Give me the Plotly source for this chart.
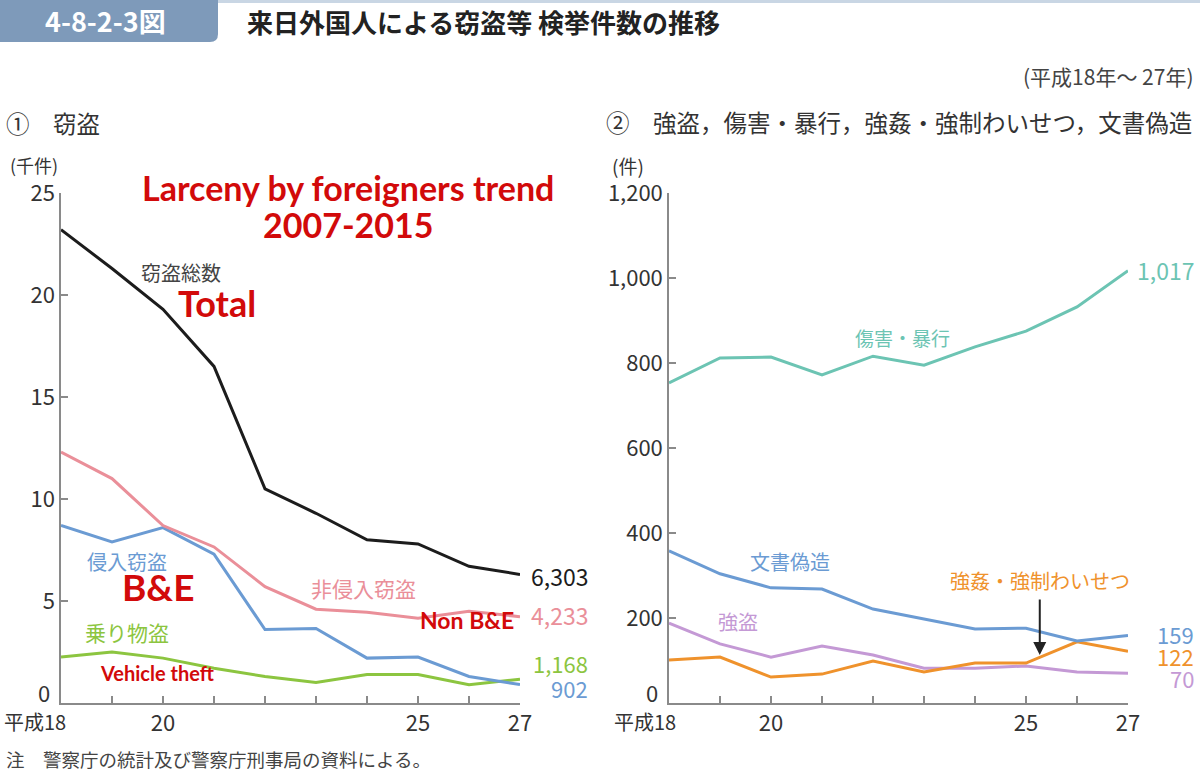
import plotly.graph_objects as go

W, H = 1200, 772
years = [18, 19, 20, 21, 22, 23, 24, 25, 26, 27]

# ① 窃盗 (千件)
total = [23.2, 21.3, 19.3, 16.5, 10.5, 9.3, 8.0, 7.8, 6.7, 6.303]
non_be = [12.3, 11.0, 8.7, 7.65, 5.7, 4.6, 4.45, 4.15, 4.5, 4.233]
be = [8.7, 7.9, 8.6, 7.3, 3.6, 3.65, 2.2, 2.25, 1.3, 0.902]
vehicle = [2.25, 2.5, 2.2, 1.7, 1.3, 1.0, 1.4, 1.4, 0.9, 1.168]

# ② 強盗，傷害・暴行，強姦・強制わいせつ，文書偽造 (件)
assault = [753, 812, 814, 772, 816, 795, 838, 875, 932, 1017]
forgery = [358, 304, 271, 268, 221, 197, 174, 176, 146, 159]
robbery = [188, 139, 108, 134, 113, 82, 82, 87, 73, 70]
rape = [101, 108, 61, 68, 99, 73, 94, 94, 144, 122]

xtick_vals = years
xtick_text = ["", "", "20", "", "", "", "", "25", "", "27"]
y1_ticks = [0, 5, 10, 15, 20, 25]
y1_text = ["", "5", "10", "15", "20", "25"]
y2_ticks = [0, 200, 400, 600, 800, 1000, 1200]
y2_text = ["", "200", "400", "600", "800", "1,000", "1,200"]

C_BLACK = "#1c1c1c"
C_PINK = "#ea8f99"
C_BLUE = "#6b9bd3"
C_GREEN = "#8cc540"
C_TEAL = "#6cc4b3"
C_PURPLE = "#c499d5"
C_ORANGE = "#ef922c"
C_RED = "#d20a0a"
JP = "Noto Sans CJK JP"
EN = "Lato"


def px(x):
    return x / W


def py(y):
    return (H - y) / H


fig = go.Figure()

for ser, col in [(vehicle, C_GREEN), (be, C_BLUE), (non_be, C_PINK), (total, C_BLACK)]:
    fig.add_trace(go.Scatter(x=years, y=ser, mode="lines", line=dict(color=col, width=3),
                             xaxis="x", yaxis="y", hoverinfo="skip", showlegend=False))
for ser, col in [(robbery, C_PURPLE), (rape, C_ORANGE), (forgery, C_BLUE), (assault, C_TEAL)]:
    fig.add_trace(go.Scatter(x=years, y=ser, mode="lines", line=dict(color=col, width=3),
                             xaxis="x2", yaxis="y2", hoverinfo="skip", showlegend=False))

axis_common = dict(showgrid=False, zeroline=False, showline=True, linecolor="#8a8a8a", linewidth=1.5,
                   ticks="inside", ticklen=7, tickcolor="#8a8a8a", tickwidth=1.5, automargin=False,
                   tickfont=dict(family=JP, size=22, color="#333333"))

y0, y1 = py(703), py(193)
fig.update_layout(
    template="none",
    width=W, height=H, margin=dict(l=0, r=0, t=0, b=0, pad=0, autoexpand=False),
    paper_bgcolor="white", plot_bgcolor="white",
    xaxis=dict(domain=[px(61), px(520)], range=[18, 27], tickvals=xtick_vals, ticktext=xtick_text,
               anchor="y", **axis_common),
    yaxis=dict(domain=[y0, y1], range=[0, 25], tickvals=y1_ticks, ticktext=y1_text, anchor="x",
               **axis_common),
    xaxis2=dict(domain=[px(669), px(1128)], range=[18, 27], tickvals=xtick_vals, ticktext=xtick_text,
                anchor="y2", **axis_common),
    yaxis2=dict(domain=[y0, y1], range=[0, 1200], tickvals=y2_ticks, ticktext=y2_text,
                anchor="x2", **axis_common),
)

shapes = []
# header box with rounded bottom-right corner
shapes.append(dict(type="path", xref="paper", yref="paper",
                   path=f"M 0 {py(0)} L {px(218)} {py(0)} L {px(218)} {py(34)} "
                        f"Q {px(218)} {py(42)} {px(210)} {py(42)} L 0 {py(42)} Z",
                   fillcolor="#7e9aba", line=dict(width=0)))
shapes.append(dict(type="line", xref="paper", yref="paper", x0=px(218), x1=1, y0=py(1.5), y1=py(1.5),
                   line=dict(color="#c9d6e4", width=3)))
fig.update_layout(shapes=shapes)

ann = []


def t(x, y, text, size, color="#333333", family=JP, xanchor="center", yanchor="middle", xref="paper",
      yref="paper", **kw):
    ann.append(dict(x=x, y=y, text=text, xref=xref, yref=yref, showarrow=False, xanchor=xanchor,
                    yanchor=yanchor, font=dict(family=family, size=size, color=color), **kw))


# header
t(px(105), py(21), "<b>4-8-2-3図</b>", 27, "white")
t(px(245), py(22), "<b>来日外国人による窃盗等 検挙件数の推移</b>", 26, "#222222", xanchor="left")
t(px(1196), py(76), "(平成18年～ 27年)", 21, "#444444", xanchor="right")
t(px(4), py(123), "①　窃盗", 23.5, "#333333", xanchor="left")
t(px(604), py(122), "②　強盗，傷害・暴行，強姦・強制わいせつ，文書偽造", 23.5, "#333333", xanchor="left")
t(px(8), py(165), "(千件)", 18, "#333333", xanchor="left")
t(px(610), py(165), "(件)", 19, "#333333", xanchor="left")
t(px(4), py(759), "注　警察庁の統計及び警察庁刑事局の資料による。", 18.5, "#444444", xanchor="left")

# zero labels of the y axes, lifted above the x-axis labels
t(px(52), py(692), "0", 22, "#333333", xanchor="right")
t(px(660), py(692), "0", 22, "#333333", xanchor="right")

# x-axis "平成18" labels
t(px(2), py(721), "平成18", 20, "#333333", xanchor="left")
t(px(612), py(721), "平成18", 20, "#333333", xanchor="left")

# red overlay annotations
t(px(348), py(188), "<b>Larceny by foreigners trend</b>", 34, C_RED, family=EN)
t(px(348), py(224), "<b>2007-2015</b>", 34, C_RED, family=EN)

# left chart series labels (data coords)
L = dict(xref="x", yref="y")
t(20.35, 21.1, "窃盗総数", 20, "#444444", **L)
t(21.06, 19.6, "<b>Total</b>", 36, C_RED, family=EN, **L)
t(19.3, 6.95, "侵入窃盗", 20, C_BLUE, **L)
t(19.9, 5.7, "<b>B&E</b>", 37, C_RED, family=EN, **L)
t(23.94, 5.64, "非侵入窃盗", 21, C_PINK, **L)
t(25.96, 4.07, "<b>Non B&E</b>", 23, C_RED, family=EN, **L)
t(19.3, 3.48, "乗り物盗", 21, C_GREEN, **L)
t(19.9, 1.47, "<b>Vehicle theft</b>", 20, C_RED, family=EN, **L)

# left end values
t(px(590), py(576), "6,303", 23, C_BLACK, xanchor="right")
t(px(590), py(615), "4,233", 23, C_PINK, xanchor="right")
t(px(590), py(663), "1,168", 22, C_GREEN, xanchor="right")
t(px(590), py(688), "902", 22, C_BLUE, xanchor="right")

# right chart series labels
R = dict(xref="x2", yref="y2")
t(22.57, 861, "傷害・暴行", 19, C_TEAL, **R)
t(20.37, 332, "文書偽造", 20, C_BLUE, **R)
t(19.35, 191, "強盗", 20, C_PURPLE, **R)
t(25.27, 289, "強姦・強制わいせつ", 20, C_ORANGE, **R)

# right end values
t(px(1196), py(270), "1,017", 23, C_TEAL, xanchor="right")
t(px(1196), py(634), "159", 22, C_BLUE, xanchor="right")
t(px(1196), py(656), "122", 22, C_ORANGE, xanchor="right")
t(px(1196), py(678), "70", 22, C_PURPLE, xanchor="right")

# arrow
ann.append(dict(x=25.27, y=113, ax=25.27, ay=247, xref="x2", yref="y2", axref="x2", ayref="y2",
                showarrow=True, arrowhead=2, arrowsize=1.3, arrowwidth=2, arrowcolor="#222222", text=""))

fig.update_layout(annotations=ann)
fig.write_html("out.html")
